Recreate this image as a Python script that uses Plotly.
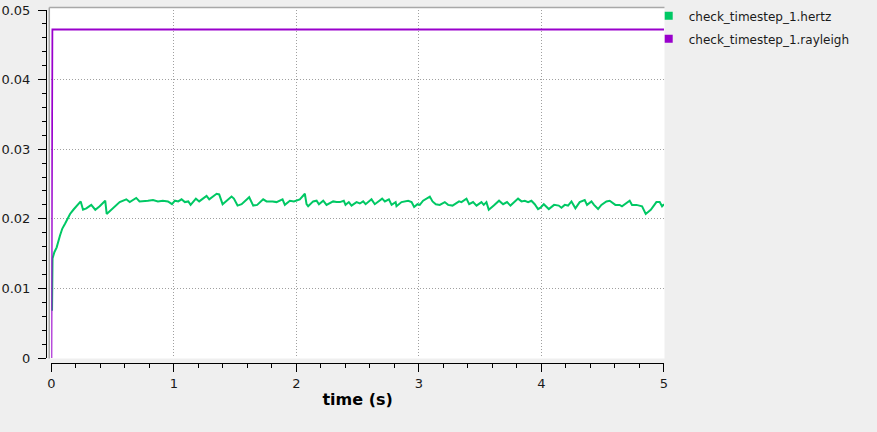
import plotly.graph_objects as go

# ---- data ----
hertz_t = [0.006, 0.010, 0.025, 0.044, 0.071, 0.090, 0.112, 0.130, 0.153, 0.180,
           0.218, 0.240, 0.259, 0.286, 0.326, 0.359, 0.395, 0.440, 0.452, 0.503,
           0.558, 0.612, 0.640, 0.693, 0.720, 0.789, 0.830, 0.870, 0.910, 0.952,
           0.985, 1.009, 1.036, 1.063, 1.090, 1.118, 1.137, 1.180, 1.207, 1.267,
           1.289, 1.349, 1.370, 1.398, 1.425, 1.471, 1.490, 1.520, 1.553, 1.615,
           1.648, 1.680, 1.729, 1.757, 1.806, 1.838, 1.887, 1.906, 1.947, 1.980,
           2.028, 2.069, 2.083, 2.096, 2.137, 2.165, 2.184, 2.219, 2.246, 2.300,
           2.328, 2.355, 2.387, 2.401, 2.428, 2.450, 2.491, 2.518, 2.545, 2.565,
           2.613, 2.640, 2.700, 2.722, 2.755, 2.777, 2.810, 2.817, 2.858, 2.885,
           2.912, 2.940, 2.961, 2.988, 3.007, 3.034, 3.089, 3.111, 3.138, 3.170,
           3.211, 3.238, 3.274, 3.328, 3.347, 3.388, 3.410, 3.442, 3.470, 3.510,
           3.529, 3.551, 3.570, 3.611, 3.654, 3.687, 3.719, 3.747, 3.809, 3.837,
           3.864, 3.891, 3.918, 3.945, 3.972, 3.992, 4.019, 4.060, 4.103, 4.141,
           4.163, 4.190, 4.217, 4.245, 4.277, 4.312, 4.353, 4.372, 4.408, 4.429,
           4.462, 4.489, 4.530, 4.557, 4.603, 4.638, 4.657, 4.720, 4.739, 4.775,
           4.794, 4.821, 4.851, 4.892, 4.938, 4.965, 4.984, 5.000]
hertz_v = [0.0068, 0.0143, 0.0152, 0.0159, 0.0176, 0.0186, 0.0193, 0.0200, 0.0207, 0.0213,
           0.0221, 0.0225, 0.0213, 0.0215, 0.0220, 0.0213, 0.0218, 0.0226, 0.0207, 0.0215,
           0.0224, 0.0228, 0.0224, 0.0230, 0.0225, 0.0226, 0.0227, 0.0225, 0.0226, 0.0225,
           0.0221, 0.0226, 0.0225, 0.0228, 0.0224, 0.0225, 0.0220, 0.0229, 0.0225, 0.0233,
           0.0228, 0.0236, 0.0235, 0.0221, 0.0225, 0.0232, 0.0229, 0.0219, 0.0221, 0.0231,
           0.0219, 0.0220, 0.0228, 0.0225, 0.0225, 0.0224, 0.0228, 0.0220, 0.0226, 0.0225,
           0.0228, 0.0236, 0.0221, 0.0218, 0.0225, 0.0226, 0.0221, 0.0226, 0.0220, 0.0225,
           0.0224, 0.0224, 0.0226, 0.0220, 0.0224, 0.0219, 0.0224, 0.0222, 0.0225, 0.0221,
           0.0228, 0.0221, 0.0229, 0.0225, 0.0228, 0.0220, 0.0224, 0.0218, 0.0224, 0.0225,
           0.0226, 0.0224, 0.0217, 0.0221, 0.0220, 0.0226, 0.0232, 0.0225, 0.0221, 0.0220,
           0.0224, 0.0220, 0.0219, 0.0225, 0.0224, 0.0229, 0.0221, 0.0224, 0.0219, 0.0224,
           0.0220, 0.0224, 0.0213, 0.0219, 0.0226, 0.0221, 0.0224, 0.0219, 0.0229, 0.0225,
           0.0226, 0.0224, 0.0226, 0.0221, 0.0214, 0.0216, 0.0221, 0.0214, 0.0220, 0.0219,
           0.0216, 0.0220, 0.0219, 0.0225, 0.0215, 0.0224, 0.0227, 0.0220, 0.0225, 0.0220,
           0.0214, 0.0220, 0.0225, 0.0226, 0.0220, 0.0220, 0.0218, 0.0226, 0.0220, 0.0220,
           0.0219, 0.0218, 0.0207, 0.0213, 0.0224, 0.0224, 0.0218, 0.0221]

rayleigh_t = [0.0, 0.004, 0.008, 5.0]
rayleigh_v = [0.0, 0.0237, 0.0472, 0.0472]

series_names = ["check_timestep_1.hertz", "check_timestep_1.rayleigh"]
series_colors = ["#00c864", "#9900cc"]

x_title = "time (s)"

# ---- layout geometry (pixels) ----
W, H = 877, 432
ml, mr, mt, mb = 46, 212.7, 9.7, 68.7
pw = W - ml - mr
ph = H - mt - mb
x0_px, y0_px = 51.3, 358.3  # data origin in pixels

def px_x(p):
    return (p - ml) / pw

def px_y(p):
    return (H - mb - p) / ph

FONT = "DejaVu Sans"
fig = go.Figure()

for t, v, name, col in [(hertz_t, hertz_v, series_names[0], series_colors[0]),
                        (rayleigh_t, rayleigh_v, series_names[1], series_colors[1])]:
    fig.add_trace(go.Scatter(x=t, y=v, mode="lines", name=name,
                             line=dict(color=col, width=2), showlegend=False,
                             hoverinfo="x+y+name"))

for name, col in zip(series_names, series_colors):
    fig.add_trace(go.Scatter(x=[None], y=[None], mode="markers", name=name,
                             marker=dict(symbol="square", size=8, color=col),
                             legendgroup=name, showlegend=True))

grid = dict(showgrid=True, gridcolor="#a0a0a0", griddash="1px,2px", gridwidth=1,
            zeroline=False, showline=True, linecolor="#000000", linewidth=1,
            ticks="outside", ticklen=8, tickwidth=1, tickcolor="#000000",
            automargin=False,
            tickfont=dict(family=FONT, size=13, color="#1a1a1a"))

fig.update_layout(
    width=W, height=H,
    margin=dict(l=ml, r=mr, t=mt, b=mb, pad=0, autoexpand=False),
    paper_bgcolor="#efefef",
    plot_bgcolor="#ffffff",
    font=dict(family=FONT, size=13, color="#1a1a1a"),
    xaxis=dict(range=[0, 5], dtick=1, tick0=0, anchor="free", position=0,
               domain=[px_x(x0_px), 1],
               minor=dict(dtick=0.2, ticks="outside", ticklen=4, tickcolor="#000000", showgrid=False),
               title=dict(text="<b>" + x_title + "</b>", font=dict(family=FONT, size=16, color="#000000"),
                          standoff=4),
               **grid),
    yaxis=dict(range=[0, 0.05], dtick=0.01, tick0=0, anchor="free", position=0,
               domain=[px_y(y0_px), 1], ticklabelstandoff=5,
               minor=dict(dtick=0.002, ticks="outside", ticklen=4, tickcolor="#000000", showgrid=False),
               **grid),
    legend=dict(x=px_x(649), y=px_y(1), xanchor="left", yanchor="top",
                bgcolor="rgba(0,0,0,0)", font=dict(family=FONT, size=12, color="#1a1a1a"),
                tracegroupgap=4, traceorder="grouped"),
    shapes=[
        dict(type="rect", xref="paper", yref="paper", layer="below",
             x0=px_x(49.3), x1=px_x(664.8), y0=px_y(358.8), y1=px_y(7.3),
             fillcolor="#ffffff", line=dict(width=0)),
        dict(type="line", xref="paper", yref="paper", layer="below",
             x0=px_x(49.3), x1=px_x(49.3), y0=px_y(358.8), y1=px_y(7.3),
             line=dict(color="#a8a8a8", width=1.5)),
        dict(type="line", xref="paper", yref="paper", layer="below",
             x0=px_x(49.3), x1=px_x(664.8), y0=px_y(7.3), y1=px_y(7.3),
             line=dict(color="#a8a8a8", width=1.5)),
    ],
)

fig.write_html("out.html", config={"displayModeBar": False},
               post_script="document.body.style.margin='0';document.body.style.overflow='hidden';")
